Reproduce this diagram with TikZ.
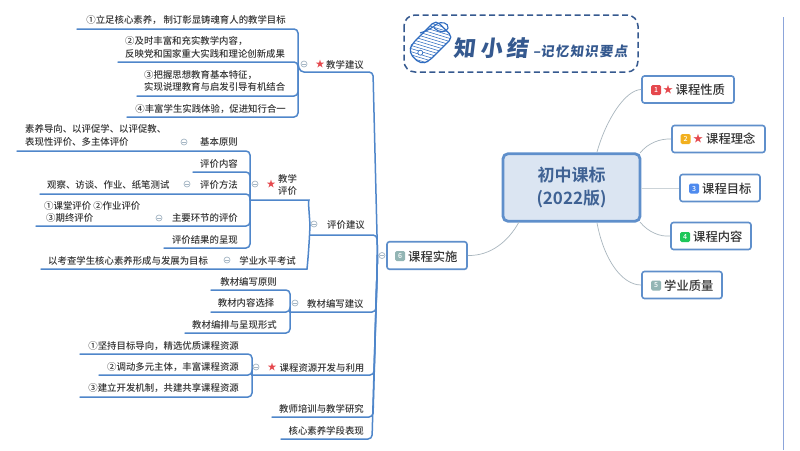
\documentclass[tikz,border=0pt]{standalone}
\usepackage{fontspec}
\setmainfont{Noto Sans CJK SC Medium}
\newfontfamily\cjkbold{Noto Sans CJK SC Bold}
\newfontfamily\logofont[FakeSlant=0.12]{Noto Sans CJK SC Black}
\definecolor{branch}{HTML}{4F86CA}
\definecolor{boxline}{HTML}{5F8FCB}
\definecolor{centerfill}{HTML}{DBE5F2}
\definecolor{centertext}{HTML}{3F6294}
\definecolor{logoblue}{HTML}{35598F}
\definecolor{tagblue}{HTML}{2F6CC0}
\definecolor{txt}{HTML}{333333}
\definecolor{thin}{HTML}{A9B6BE}
\definecolor{starred}{HTML}{E5484D}
\definecolor{dotline}{HTML}{A5B6C4}
\definecolor{rulecol}{HTML}{8CA5DA}
\definecolor{iconyellow}{HTML}{F2B01E}
\definecolor{iconblue}{HTML}{4E8AEE}
\definecolor{icongreen}{HTML}{1FC75A}
\definecolor{icongrey}{HTML}{93B5B4}
\tikzset{
  br/.style={draw=branch,line width=1.5pt,rounded corners=4pt,line cap=round},
  lab/.style={inner sep=0pt,text=txt,font=\fontsize{9.4pt}{12.6pt}\selectfont},
  labl/.style={lab,anchor=west,align=left},
  labr/.style={lab,anchor=east,align=right},
  stara/.style={inner sep=0pt,text=starred,font=\fontsize{9pt}{9pt}\selectfont},
  starb/.style={inner sep=0pt,text=starred,font=\fontsize{10pt}{10pt}\selectfont},
  dot/.style={circle,draw=dotline,fill=white,line width=.7pt,minimum size=6pt,inner sep=0pt,
    path picture={\draw[dotline,line width=.6pt] ([xshift=-1.6pt]path picture bounding box.center)--++(3.2pt,0);}},
  topic/.style={draw=boxline,fill=white,line width=1.6pt,rounded corners=2.5pt,inner sep=0pt},
  ttxt/.style={inner sep=0pt,anchor=west,text=txt,font=\fontsize{12.3pt}{14pt}\selectfont},
  icon/.style={inner sep=0pt,minimum size=10pt,rounded corners=1.5pt,text=white,font=\fontsize{7pt}{7pt}\selectfont},
  thinline/.style={draw=thin,line width=.7pt},
}
\newcommand{\leaf}[4]{\coordinate (#1) at (#2,#3); \draw[br] (#1) -| (#4);}
\newcommand{\mleaf}[4]{\coordinate (#1) at (#2,#3); \draw[br] (#1) -- (#4,#3) -- (mj);}
\begin{document}
\begin{tikzpicture}[x=1pt,y=-1pt]
\useasboundingbox (0,0) rectangle (800,450);
\fill[white] (0,0) rectangle (800,450);
% right rule
\draw[line width=1.5pt,color=rulecol] (783.5,17) -- (783.5,450);

% logo
\draw[logoblue,line width=1.5pt,dash pattern=on 6pt off 3.5pt,rounded corners=11pt] (404,15) rectangle (638,72);
\begin{scope}[shift={(429.5,43.5)},rotate=45]
  \begin{scope}
    \clip[rounded corners=5pt] (-21,-8) -- (-13,-12) -- (21,-12) -- (21,12) -- (-13,12) -- (-21,8) -- cycle;
    \fill[white] (-24,-15) rectangle (22,15);
    \foreach \k in {-32,-28.6,...,32}{\draw[tagblue,line width=.55pt] (\k-8,-15) -- (\k+8,15);}
  \end{scope}
  \draw[tagblue,line width=1.2pt,rounded corners=5pt] (-21,-8) -- (-13,-12) -- (21,-12) -- (21,12) -- (-13,12) -- (-21,8) -- cycle;
  \fill[white,draw=tagblue,line width=.7pt] (-13,0) circle (2.5pt);
\end{scope}
\draw[tagblue,line width=1.1pt] (420,33) .. controls (427,31) and (432,28) .. (437,24) .. controls (441,21) and (449,23) .. (448,28) .. controls (447,33) and (439,33) .. (434,28);
\node[inner sep=0pt,text=logoblue,font=\logofont\fontsize{22pt}{22pt}\selectfont] (logoa) at (491,48) {知\hspace{5pt}小\hspace{5pt}结};
\node[inner sep=0pt,anchor=west,text=logoblue,font=\logofont\fontsize{13.5pt}{14pt}\selectfont] (logob) at (533,51) {–记\hspace{1.2pt}忆\hspace{1.2pt}知\hspace{1.2pt}识\hspace{1.2pt}要\hspace{1.2pt}点};

% centre and topics
\node[draw=boxline,fill=centerfill,line width=2.8pt,rounded corners=5pt,minimum width=137pt,minimum height=67.5pt,inner sep=0pt,
  text=centertext,align=center,font=\cjkbold\fontsize{17pt}{23pt}\selectfont] (root) at (571.5,187.5) {初中课标\\(2022版)};

\node[topic,minimum width=92pt,minimum height=27pt] (t1) at (688,89.5) {};
\node[icon,fill=starred] (i1) at (656,90) {1};
\node[starb] (s1) at (668,90) {★};
\node[ttxt] (x1) at (675.5,90) {课程性质};

\node[topic,minimum width=93pt,minimum height=27pt] (t2) at (718.5,139) {};
\node[icon,fill=iconyellow] (i2) at (685.5,139) {2};
\node[starb] (s2) at (698,139) {★};
\node[ttxt] (x2) at (706,139) {课程理念};

\node[topic,minimum width=80pt,minimum height=27pt] (t3) at (720,188) {};
\node[icon,fill=iconblue] (i3) at (694,188.5) {3};
\node[ttxt] (x3) at (702,189) {课程目标};

\node[topic,minimum width=80pt,minimum height=27pt] (t4) at (711,236) {};
\node[icon,fill=icongreen] (i4) at (685,237) {4};
\node[ttxt] (x4) at (693,237) {课程内容};

\node[topic,minimum width=80pt,minimum height=27pt] (t5) at (682,285) {};
\node[icon,fill=icongrey] (i5) at (656,285.5) {5};
\node[ttxt] (x5) at (664,286) {学业质量};

\node[topic,minimum width=80pt,minimum height=27.5pt] (t6) at (427,255.5) {};
\node[icon,fill=icongrey] (i6) at (400,256) {6};
\node[ttxt] (x6) at (408,256.5) {课程实施};

\draw[thinline] (597,152) .. controls (606,120) and (625,90) .. (t1.west);
\draw[thinline] (640,153) .. controls (648,143) and (660,138.5) .. (t2.west);
\draw[thinline,draw=thin!60!white,line width=1pt] (root.east |- t3.west) -- (t3.west);
\draw[thinline] (640,222) .. controls (648,232) and (660,237) .. (t4.west);
\draw[thinline] (597,223) .. controls (604,260) and (622,285) .. (t5.west);
\draw[thinline] (519,222) .. controls (508,242) and (490,256) .. (t6.east);

% main spine
\coordinate (mj) at (377.5,255);

% group: teaching suggestions
\coordinate (tj) at (298,64);
\leaf{a1}{77}{29}{tj}
\leaf{a2}{118}{62}{tj}
\leaf{a3}{137}{96}{tj}
\leaf{a4}{127}{117}{tj}
\coordinate (ta) at (300,72);
\draw[br] (tj) -- (ta) -- (373,72) -- (mj);
\node[labr] (na1) at (286,20) {①立足核心素养，\hspace{2pt}制订彰显铸魂育人的教学目标};
\node[labl] (na2) at (125,47.5) {②及时丰富和充实教学内容，\\反映党和国家重大实践和理论创新成果};
\node[labl] (na3) at (144,81) {③把握思想教育基本特征，\\实现说理教育与启发引导有机结合};
\node[labr] (na4) at (286,109) {④丰富学生实践体验，促进知行合一};
\node[dot] (da) at (304,64) {};
\node[stara] (sa) at (320,64.5) {★};
\node[labl] (ta1) at (326,64.5) {教学建议};

% group: teaching evaluation
\coordinate (ej) at (250,199);
\leaf{b1}{17}{151}{ej}
\leaf{b2}{193}{172}{ej}
\leaf{b3}{40}{194}{ej}
\leaf{b4}{36}{226}{ej}
\leaf{b5}{164}{248}{ej}
\node[labr] (nb1) at (238,142) {基本原则};
\node[dot] (db1) at (184,142) {};
\node[labl] (nb1a) at (25,135.5) {素养导向、以评促学、以评促教、\\表现性评价、多主体评价};
\node[labr] (nb2) at (238,164) {评价内容};
\node[labr] (nb3) at (238,185) {评价方法};
\node[dot] (db3) at (187,184) {};
\node[labl] (nb3a) at (47,185) {观察、访谈、作业、纸笔测试};
\node[labr] (nb4) at (238,218) {主要环节的评价};
\node[dot] (db4) at (159,218) {};
\node[labl] (nb4a) at (44,212) {①课堂评价 ②作业评价\\\hspace{2pt}③期终评价};
\node[labr] (nb5) at (238,239.5) {评价结果的呈现};
\node[dot] (de) at (255,184) {};
\node[stara] (se) at (271,184.5) {★};
\node[labl] (te) at (278,185) {教学\\评价};

% group: evaluation suggestions
\coordinate (fj) at (310,225);
\coordinate (g1) at (250,200);
\coordinate (g2) at (41,269);
\draw[br] (g1) -- (305,200) .. controls (308,200) and (309,210) .. (310,225);
\draw[br] (g2) -- (303,269) .. controls (307,269) and (309,250) .. (fj);
\mleaf{g3}{310}{235}{377}
\node[dot] (dg) at (314,224) {};
\node[labl] (tg) at (327,224.5) {评价建议};
\node[labr] (ng2) at (296,261) {学业水平考试};
\node[dot] (dg2) at (227,260) {};
\node[labl] (ng2a) at (48,261) {以考查学生核心素养形成与发展为目标};

% group: textbook
\coordinate (hj) at (290,312);
\leaf{h1}{211}{290}{hj}
\leaf{h2}{211}{312}{hj}
\leaf{h3}{185}{333}{hj}
\mleaf{h}{290}{312}{376}
\node[labr] (nh1) at (277,282) {教材编写原则};
\node[labr] (nh2) at (274.5,303) {教材内容选择};
\node[labr] (nh3) at (277,324.5) {教材编排与呈现形式};
\node[dot] (dh) at (295,303) {};
\node[labl] (th) at (307,303.5) {教材编写建议};

% group: resources
\coordinate (rj) at (252,375);
\leaf{r1}{80}{354}{rj}
\leaf{r2}{99}{375}{rj}
\leaf{r3}{80}{397}{rj}
\mleaf{r}{252}{375}{374}
\node[labr] (nr1) at (239,346) {①坚持目标导向，精选优质课程资源};
\node[labr] (nr2) at (239,367) {②调动多元主体，丰富课程资源};
\node[labr] (nr3) at (239,388.5) {③建立开发机制，共建共享课程资源};
\node[dot] (dr) at (256,367) {};
\node[stara] (sr) at (272,367) {★};
\node[labl] (tr) at (279.5,367.5) {课程资源开发与利用};

% last leaves
\mleaf{k1}{272}{417}{373}
\mleaf{k2}{281}{439}{372}
\node[labr] (nk1) at (364,409) {教师培训与教学研究};
\node[labr] (nk2) at (364,430.5) {核心素养学段表现};
\node[dot] (d6) at (382,255.5) {};
\end{tikzpicture}
\end{document}
